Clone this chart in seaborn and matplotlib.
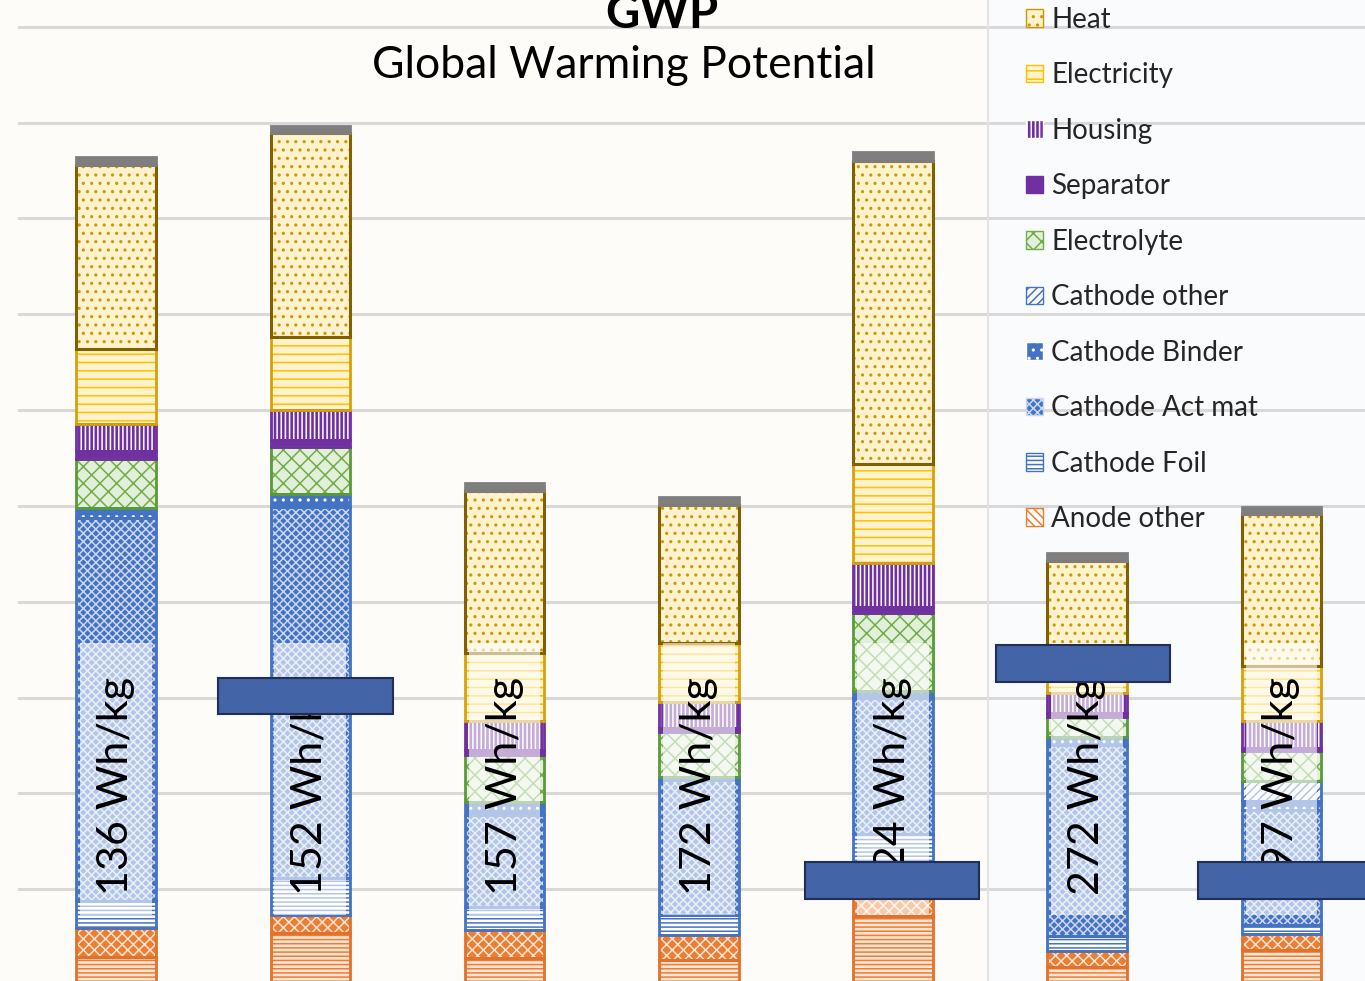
import numpy as np
import matplotlib
matplotlib.use("Agg")
import matplotlib.pyplot as plt
import seaborn as sns
from matplotlib.patches import Patch, Rectangle
from matplotlib.lines import Line2D

# ------------------------------------------------------------
# data: segment heights per cell (1 unit = one gridline step)
# stacked bottom -> top
# ------------------------------------------------------------
labels = ["136 Wh/kg", "152 Wh/kg", "157 Wh/kg", "172 Wh/kg",
          "224 Wh/kg", "272 Wh/kg", "297 Wh/kg"]

anode_foil = [0.29, 0.54, 0.28, 0.26, 0.72, 0.19, 0.37]
anode_act_mat = [0.31, 0.19, 0.29, 0.26, 0.27, 0.16, 0.16]
anode_other = [0, 0, 0, 0, 0, 0, 0]
cathode_foil = [0.28, 0.39, 0.24, 0.21, 0.59, 0.16, 0.10]
cathode_act_mat = [3.99, 3.87, 0.96, 1.41, 1.42, 2.00, 1.20]
cathode_binder = [0.11, 0.13, 0.14, 0.03, 0.07, 0.08, 0.09]
cathode_other = [0, 0, 0, 0, 0, 0, 0.21]
electrolyte = [0.51, 0.50, 0.49, 0.47, 0.81, 0.21, 0.31]
separator = [0.08, 0.07, 0.05, 0.04, 0.07, 0.04, 0.03]
housing = [0.28, 0.31, 0.31, 0.27, 0.45, 0.21, 0.29]
electricity = [0.79, 0.76, 0.70, 0.62, 1.04, 0.24, 0.57]
heat = [1.92, 2.13, 1.70, 1.44, 3.16, 1.14, 1.59]
other = [0.08, 0.08, 0.08, 0.08, 0.09, 0.08, 0.07]

legend_names = ["Heat", "Electricity", "Housing", "Separator", "Electrolyte",
                "Cathode other", "Cathode Binder", "Cathode Act mat",
                "Cathode Foil", "Anode other"]

# name, values, face, hatch colour, hatch, border colour
layers = [
    ("Anode Foil", anode_foil, "#fbe5d6", "#ed7d31", "----", "#e2712a"),
    ("Anode Act mat", anode_act_mat, "#ed7d31", "#fbe5d6", "xxx", "#e2712a"),
    ("Anode other", anode_other, "#ffffff", "#ed7d31", "\\\\\\\\", "#ed7d31"),
    ("Cathode Foil", cathode_foil, "#ffffff", "#4472c4", "----", "#4472c4"),
    ("Cathode Act mat", cathode_act_mat, "#4472c4", "#c9d7ef", "xxxx", "#4472c4"),
    ("Cathode Binder", cathode_binder, "#4472c4", "#ffffff", "..", "#4472c4"),
    ("Cathode other", cathode_other, "#ffffff", "#4472c4", "////", "#4472c4"),
    ("Electrolyte", electrolyte, "#e2efda", "#70ad47", "xx", "#5b9a3a"),
    ("Separator", separator, "#7030a0", "#7030a0", "", "#7030a0"),
    ("Housing", housing, "#7030a0", "#ffffff", "||||", "#7030a0"),
    ("Electricity", electricity, "#fff2cc", "#ffc000", "--", "#d6a20c"),
    ("Heat", heat, "#fff2cc", "#c99a06", "..", "#806000"),
    ("Other", other, "#7f7f7f", "#7f7f7f", "", "#7f7f7f"),
]

W, H = 1365, 981
sns.set_theme(style="white")
plt.rcParams["font.family"] = ["Lato", "DejaVu Sans"]
plt.rcParams["hatch.linewidth"] = 1.1

fig = plt.figure(figsize=(W / 100, H / 100), dpi=100)
fig.patch.set_facecolor("#fdfcf9")

# lighter legend panel on the right
fig.add_artist(Rectangle((988 / W, 0), 1 - 988 / W, 1, transform=fig.transFigure,
                         facecolor="#fafbfd", edgecolor="none", zorder=-1))

ax = fig.add_axes([18 / W, 0, 1 - 18 / W, 1])
ax.patch.set_alpha(0)

bottom = np.zeros(len(labels))
for name, vals, face, hcol, hatch, edge in layers:
    vals = np.array(vals, dtype=float)
    if vals.sum() == 0:
        continue
    sns.barplot(x=labels, y=vals, bottom=bottom, width=0.41, color=face,
                saturation=1, errorbar=None, ax=ax, zorder=2)
    for i, p in enumerate(ax.containers[-1]):
        p.set_facecolor(face)
        p.set_edgecolor(hcol)
        p.set_hatch(hatch)
        p.set_linewidth(0)
        p.set_y(bottom[i])
    sns.barplot(x=labels, y=vals, bottom=bottom, width=0.41, color=edge,
                saturation=1, errorbar=None, ax=ax, zorder=3)
    for i, p in enumerate(ax.containers[-1]):
        p.set_facecolor("none")
        p.set_edgecolor(edge)
        p.set_linewidth(2.2 if name == "Heat" else 2)
        p.set_y(bottom[i])
    bottom += vals

# semi transparent text boxes with the energy density
fade_bottom, fade_top = 0.73, 3.57
ax.bar(np.arange(len(labels)), fade_top - fade_bottom, bottom=fade_bottom,
       width=0.37, color="white", alpha=0.6, linewidth=0, zorder=4)
for i, lab in enumerate(labels):
    ax.text(i, 2.08, lab, rotation=90, ha="center", va="center",
            fontsize=31, color="black", zorder=5)

ax.set_xlim(-0.505, 6.43)
ax.set_ylim(0.042, 10.28)
ax.set_yticks(range(1, 11))
ax.yaxis.grid(True, color="#d9d9d9", linewidth=2.2)
ax.xaxis.grid(False)
ax.set_axisbelow(True)
ax.tick_params(left=False, labelleft=False, bottom=False, labelbottom=False)
ax.set_xlabel("")
ax.set_ylabel("")
for s in ax.spines.values():
    s.set_visible(False)

# titles (the bold one is clipped by the top edge, as in the screenshot)
fig.text(662 / W, 1 - 28 / H, "GWP", ha="center", va="baseline",
         fontsize=34, fontweight="bold", color="black")
fig.text(624 / W, 1 - 66 / H, "Global Warming Potential", ha="center",
         va="center", fontsize=32, color="black")

# divider of the legend panel
fig.add_artist(Line2D([988 / W, 988 / W], [0, 1], transform=fig.transFigure,
                      color="#e3e3e3", linewidth=1.5))

# legend
style = {name: (face, hcol, hatch, edge) for name, _, face, hcol, hatch, edge in layers}
handles = []
for name in legend_names:
    face, hcol, hatch, edge = style[name]
    handles.append(Patch(facecolor=face, edgecolor=hcol, hatch=hatch,
                         linewidth=1, label=name))
fig.legend(handles=handles, loc="upper left", bbox_to_anchor=(1026 / W, 1 - 7 / H),
           frameon=False, fontsize=20, handlelength=0.6, handleheight=0.6,
           handletextpad=0.3, labelspacing=1.06, borderpad=0, borderaxespad=0)

# cover boxes
for x0, y0, x1, y1 in [(218, 678, 393, 714), (805, 862, 979, 899),
                       (996, 645, 1170, 682), (1198, 862, 1370, 899)]:
    fig.add_artist(Rectangle((x0 / W, 1 - y1 / H), (x1 - x0) / W, (y1 - y0) / H,
                             transform=fig.transFigure, facecolor="#4464a8",
                             edgecolor="#1f2f55", linewidth=1.5, zorder=10))

fig.savefig("out.png", dpi=100, facecolor=fig.get_facecolor())
